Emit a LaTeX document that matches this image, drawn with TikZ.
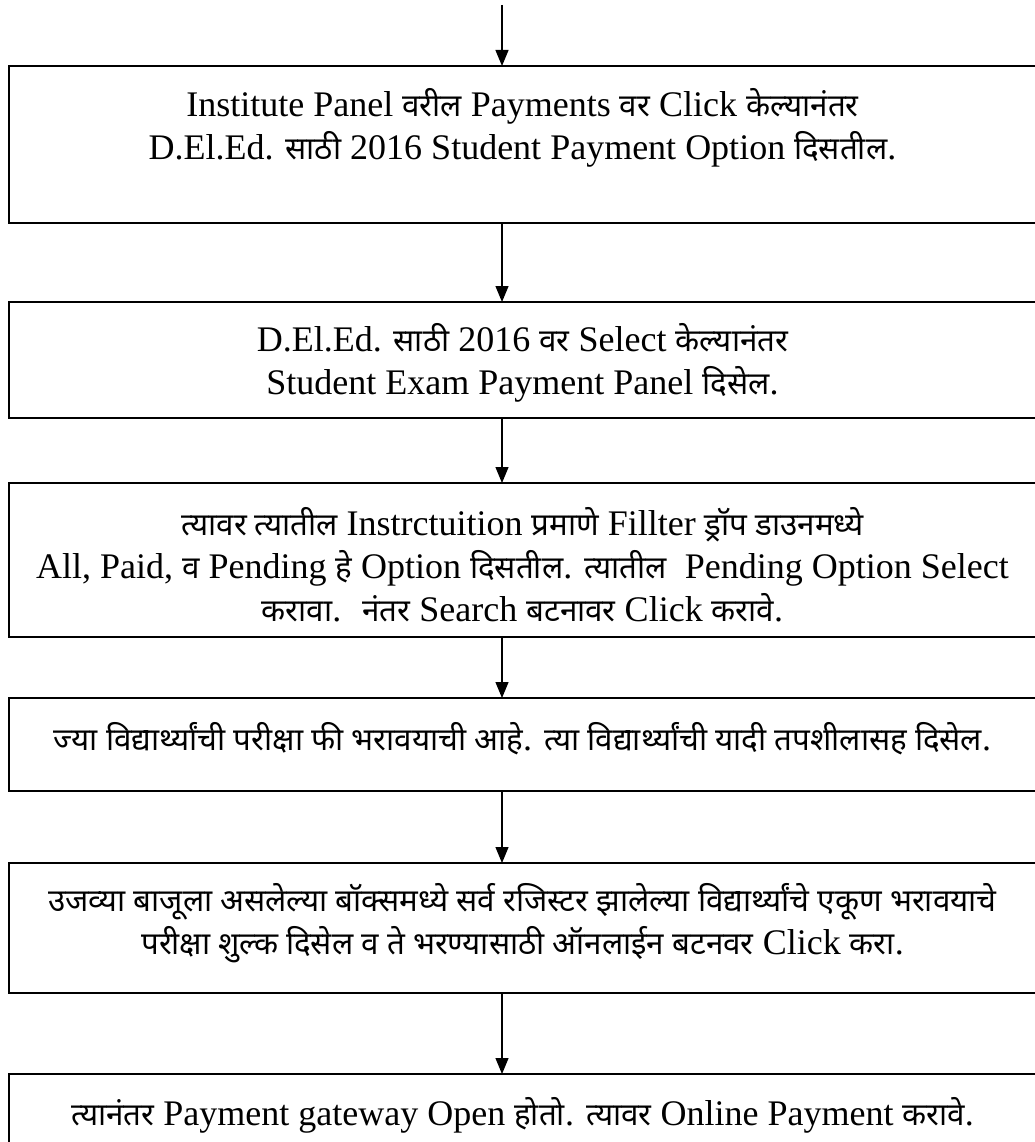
\documentclass[tikz,border=0pt]{standalone}
\usepackage{fontspec}
\setmainfont{Liberation Serif}
\newfontfamily\devfont[Script=Devanagari, Scale=0.87]{Noto Sans}
\newcommand{\mr}[1]{{\devfont #1}}
\usetikzlibrary{positioning, arrows.meta}

\begin{document}
\begin{tikzpicture}[
    x=1pt, y=1pt,
    font=\fontsize{36}{43}\selectfont,
    stepbox/.style={
        draw, line width=2pt, outer sep=0pt,
        minimum width=1027pt
    },
    steptext/.style={
        align=center, inner sep=0pt, anchor=north
    },
    flow/.style={-{Triangle[length=16pt, width=13pt]}, line width=1.2pt}
]

\useasboundingbox (0,0) rectangle (1035,-1142);

% ===== STEP BOXES =====
\node[stepbox, minimum height=157pt, anchor=north west] (box1) at (9,-66) {};
\node[stepbox, minimum height=116pt, below=79pt of box1] (box2) {};
\node[stepbox, minimum height=154pt, below=65pt of box2] (box3) {};
\node[stepbox, minimum height=93pt, below=61pt of box3] (box4) {};
\node[stepbox, minimum height=130pt, below=72pt of box4] (box5) {};
\node[stepbox, minimum height=100pt, below=81pt of box5] (box6) {};

% ===== STEP TEXTS =====
\node[steptext, below=22pt of box1.north] (text1)
{Institute Panel \mr{वरील} Payments \mr{वर} Click \mr{केल्यानंतर}\\
D.El.Ed. \mr{साठी} 2016 Student Payment Option \mr{दिसतील}.};

\node[steptext, below=21pt of box2.north] (text2)
{D.El.Ed. \mr{साठी} 2016 \mr{वर} Select \mr{केल्यानंतर}\\
Student Exam Payment Panel \mr{दिसेल}.};

\node[steptext, below=24pt of box3.north] (text3)
{\mr{त्यावर त्यातील} Instrctuition \mr{प्रमाणे} Fillter \mr{ड्रॉप डाउनमध्ये}\\
All, Paid, \mr{व} Pending \mr{हे} Option \mr{दिसतील}. \mr{त्यातील} \ Pending Option Select\\
\mr{करावा}. \ \mr{नंतर} Search \mr{बटनावर} Click \mr{करावे}.};

\node[steptext, below=24pt of box4.north] (text4)
{\mr{ज्या विद्यार्थ्यांची परीक्षा फी भरावयाची आहे}. \mr{त्या विद्यार्थ्यांची यादी तपशीलासह दिसेल}.};

\node[steptext, below=20pt of box5.north] (text5)
{\mr{उजव्या बाजूला असलेल्या बॉक्समध्ये सर्व रजिस्टर झालेल्या विद्यार्थ्यांचे एकूण भरावयाचे}\\
\mr{परीक्षा शुल्क दिसेल व ते भरण्यासाठी ऑनलाईन बटनवर} Click \mr{करा}.};

\node[steptext, below=23pt of box6.north] (text6)
{\mr{त्यानंतर} Payment gateway Open \mr{होतो}. \mr{त्यावर} Online Payment \mr{करावे}.};

% ===== FLOW ARROWS =====
\coordinate (axis) at (502,0);
\coordinate (start) at (502,-5);

\draw[flow] (start) -- (box1.north -| axis);
\draw[flow] (box1.south -| axis) -- (box2.north -| axis);
\draw[flow] (box2.south -| axis) -- (box3.north -| axis);
\draw[flow] (box3.south -| axis) -- (box4.north -| axis);
\draw[flow] (box4.south -| axis) -- (box5.north -| axis);
\draw[flow] (box5.south -| axis) -- (box6.north -| axis);

\end{tikzpicture}
\end{document}
